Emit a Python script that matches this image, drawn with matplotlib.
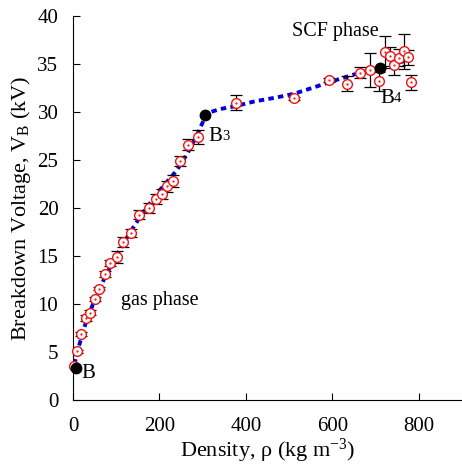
import matplotlib
matplotlib.use("Agg")
import matplotlib.pyplot as plt

plt.rcParams['font.family'] = ['Liberation Serif', 'DejaVu Serif']
plt.rcParams['mathtext.fontset'] = 'custom'
plt.rcParams['mathtext.rm'] = 'Liberation Serif'
plt.rcParams['mathtext.it'] = 'Liberation Serif:italic'

# measured breakdown voltages
density = [2, 8.5, 19, 29, 40, 51, 60, 75, 86, 101, 115, 134, 153, 176, 191, 205,
           217, 232, 248, 267, 289, 376, 511, 592, 634, 665, 687, 707, 723, 733,
           743, 754, 765, 775, 781]
voltage = [3.55, 5.05, 6.9, 8.5, 9.1, 10.5, 11.6, 13.1, 14.3, 14.9, 16.45, 17.4,
           19.3, 20.0, 20.9, 21.45, 22.25, 22.8, 24.9, 26.6, 27.4, 30.95, 31.4,
           33.3, 32.95, 34.1, 34.35, 33.2, 36.25, 35.8, 34.85, 35.65, 36.3, 35.7, 33.1]
v_err = [0.2, 0.2, 0.2, 0.3, 0.3, 0.2, 0.2, 0.3, 0.3, 0.6, 0.5, 0.4, 0.5, 0.5,
         0.5, 0.5, 0.6, 0.6, 0.5, 0.6, 0.7, 0.8, 0.2, 0.2, 0.8, 0.6, 1.8, 1.0,
         1.7, 1.0, 1.0, 0.9, 1.8, 0.8, 0.8]

# trend curve
fit_x = [3, 15, 30, 50, 75, 100, 130, 160, 200, 240, 265, 287, 300, 305,
         317, 340, 376, 420, 470, 512, 560, 600, 650, 710, 750, 783]
fit_v = [3.7, 5.8, 8.1, 10.4, 12.9, 15.0, 17.3, 19.4, 21.8, 23.9, 25.7, 27.6, 28.9, 29.7,
         29.97, 30.3, 30.6, 31.1, 31.5, 31.9, 32.6, 33.2, 33.9, 34.6, 35.1, 35.5]

# transition points B, B3, B4
b_x = [6, 305, 710]
b_v = [3.35, 29.7, 34.6]

fig = plt.figure(figsize=(4.62, 4.65), dpi=100)
ax = fig.add_axes([0.158, 0.14, 0.842, 0.8257])

ax.plot(fit_x, fit_v, color='#0000dd', lw=2.8, linestyle=(0, (1.4, 1.1)),
        dash_capstyle='butt', zorder=2)
ax.errorbar(density, voltage, yerr=v_err, fmt='none', ecolor='black',
            elinewidth=0.9, capsize=4, capthick=0.9, zorder=3)
ax.plot(density, voltage, 'o', ms=7, mfc='white', mec='#ee1111', mew=1.0,
        zorder=4, clip_on=False)
ax.plot(density, voltage, '.', ms=1.2, color='#ee1111', zorder=5, clip_on=False)
ax.plot(b_x, b_v, 'o', ms=7.5, color='black', zorder=6, clip_on=False)

ax.text(20, 2.7, 'B', fontsize=15, va='center', ha='left')
t3 = ax.text(313, 27.4, 'B', fontsize=15, va='center', ha='left')
ax.annotate('3', xy=(1, 0.18), xycoords=t3, fontsize=10.5, va='bottom', ha='left')
t4 = ax.text(711, 31.4, 'B', fontsize=15, va='center', ha='left')
ax.annotate('4', xy=(1, 0.18), xycoords=t4, fontsize=10.5, va='bottom', ha='left')
ax.text(608, 38.4, 'SCF phase', fontsize=14.5, ha='center', va='center')
ax.text(202, 10.4, 'gas phase', fontsize=14.5, ha='center', va='center')

ax.set_xlim(0, 900)
ax.set_ylim(0, 40)
ax.set_xticks([0, 200, 400, 600, 800])
ax.set_yticks(range(0, 41, 5))
ax.tick_params(direction='in', length=5, width=0.8, labelsize=15)
ax.tick_params(axis='x', pad=12)
ax.tick_params(axis='y', pad=10.5)
for s in ['top', 'right']:
    ax.spines[s].set_visible(False)
for s in ['left', 'bottom']:
    ax.spines[s].set_linewidth(0.8)

ax.set_xlabel(r'Density, ρ (kg m$^{\mathrm{-3}}$)', fontsize=16, labelpad=1)
ax.set_ylabel(r'Breakdown Voltage, V$_{\mathrm{B}}$ (kV)', fontsize=16, labelpad=3)

fig.savefig('out.png', dpi=100)
